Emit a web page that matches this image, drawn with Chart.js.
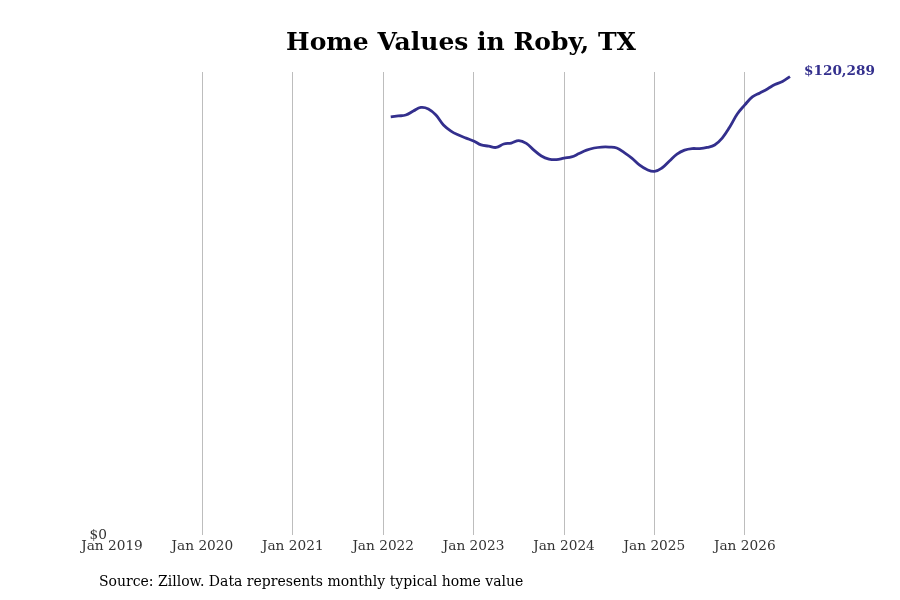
<!DOCTYPE html>
<html>
<head>
<meta charset="utf-8">
<script src="https://cdn.jsdelivr.net/npm/chart.js@4.4.0/dist/chart.umd.min.js"></script>
<style>
  html, body { margin: 0; padding: 0; background: #fff; }
  #wrap { width: 900px; height: 600px; }
</style>
</head>
<body>
<div id="wrap"><canvas id="homeValues"></canvas></div>
<script>
// x axis: monthly categories, Jan 2019 .. Jul 2026
const yearTicks = ['Jan 2019', 'Jan 2020', 'Jan 2021', 'Jan 2022', 'Jan 2023', 'Jan 2024', 'Jan 2025', 'Jan 2026'];
const monthNames = ['Jan', 'Feb', 'Mar', 'Apr', 'May', 'Jun', 'Jul', 'Aug', 'Sep', 'Oct', 'Nov', 'Dec'];
const lastMonth = 'Jul 2026';
const firstDataMonth = 'Feb 2022';

// typical home value, Feb 2022 .. Jul 2026
const homeValues = [
  109700, 109950, 110200, 111250, 112200, 111800, 110200, 107600, 106000, 104950, 104150,
  103400, 102350, 102050, 101700, 102600, 102850, 103500, 102750, 101000, 99450, 98650, 98500,
  98900, 99200, 100100, 101000, 101550, 101800, 101800, 101550, 100350, 98900, 97100, 95900,
  95400, 96300, 98150, 99950, 101000, 101400, 101400, 101700, 102350, 104150, 107050, 110450,
  112850, 114950, 116000, 117050, 118200, 119000, 120289
];
const lineColor = '#332f8d';
const sourceText = 'Source: Zillow. Data represents monthly typical home value';
const titleText = 'Home Values in Roby, TX';

const labels = [];
for (let y = 2019; ; y++) {
  let done = false;
  for (const m of monthNames) {
    labels.push(m + ' ' + y);
    if (m + ' ' + y === lastMonth) { done = true; break; }
  }
  if (done) break;
}
const startIdx = labels.indexOf(firstDataMonth);
const series = labels.map((l, i) => (i >= startIdx && i - startIdx < homeValues.length) ? homeValues[i - startIdx] : null);

const serif = "'DejaVu Serif', serif";

const extras = {
  id: 'extras',
  afterDraw(chart) {
    const ctx = chart.ctx;
    ctx.save();
    // title
    ctx.fillStyle = '#000';
    ctx.font = "bold 25px " + serif;
    ctx.textAlign = 'center';
    ctx.textBaseline = 'middle';
    ctx.fillText(titleText, 461, 43);
    // source note
    ctx.font = "14px " + serif;
    ctx.textAlign = 'left';
    ctx.fillStyle = '#000';
    ctx.fillText(sourceText, 99, 582);
    // last value label
    const meta = chart.getDatasetMeta(0);
    const last = meta.data[meta.data.length - 1];
    const v = homeValues[homeValues.length - 1];
    ctx.font = "bold 13.6px " + serif;
    ctx.fillStyle = lineColor;
    ctx.fillText('$' + v.toLocaleString('en-US'), last.x + 14, last.y - 5);
    ctx.restore();
  }
};

new Chart(document.getElementById('homeValues'), {
  type: 'line',
  data: {
    labels: labels,
    datasets: [{
      data: series,
      borderColor: lineColor,
      borderWidth: 2.8,
      pointRadius: 0,
      tension: 0.4,
      fill: false
    }]
  },
  options: {
    responsive: true,
    maintainAspectRatio: false,
    animation: false,
    layout: { padding: { top: 72, right: 110, left: 0, bottom: 0 } },
    plugins: {
      legend: { display: false },
      title: { display: false },
      tooltip: { enabled: false }
    },
    scales: {
      x: {
        offset: false,
        border: { display: false },
        grid: {
          drawTicks: false,
          lineWidth: 1,
          color: c => (c.index > 0 && yearTicks.includes(labels[c.index])) ? '#bdbdbd' : 'rgba(0,0,0,0)'
        },
        ticks: {
          autoSkip: false,
          maxRotation: 0,
          padding: 3,
          color: '#333',
          font: { family: serif, size: 13.7 },
          callback: (val, i) => yearTicks.includes(labels[i]) ? labels[i] : ''
        },
        afterFit: s => { s.height = 65; }
      },
      y: {
        min: 0,
        max: Math.max(...homeValues) * 1.01,
        border: { display: false },
        grid: { display: false, drawTicks: false },
        afterBuildTicks: s => { s.ticks = [{ value: 0 }]; },
        ticks: {
          padding: 5,
          color: '#333',
          font: { family: serif, size: 13.7 },
          callback: v => '$' + v.toLocaleString('en-US')
        },
        afterFit: s => { s.width = 112; }
      }
    }
  },
  plugins: [extras]
});
</script>
</body>
</html>
